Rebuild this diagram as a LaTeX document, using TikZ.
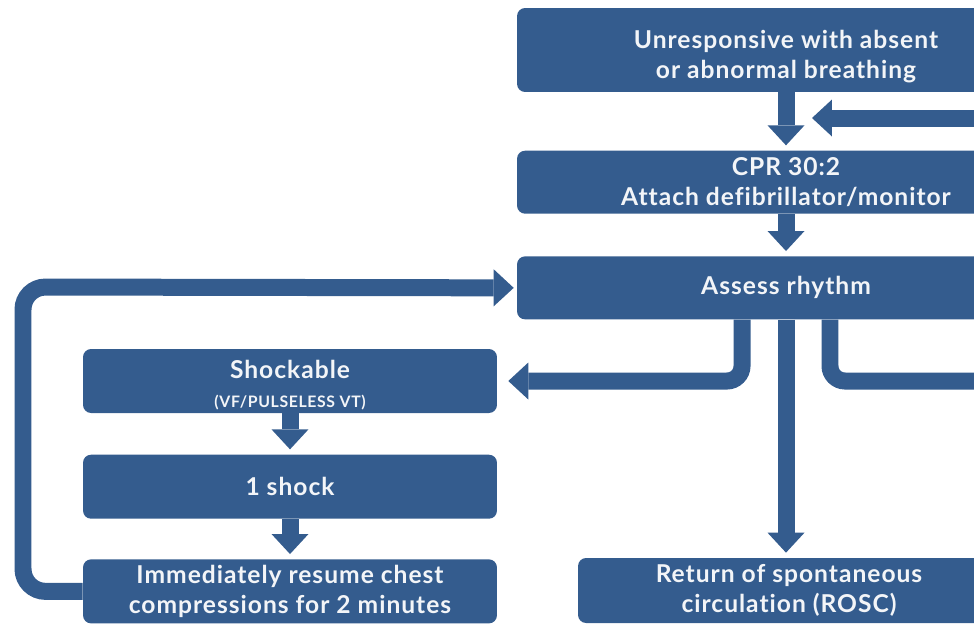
\documentclass[tikz,border=0pt]{standalone}
\usepackage{fontspec}
\setmainfont{Lato}[LetterSpace=4, Ligatures=NoCommon]
\usetikzlibrary{arrows.meta, positioning, calc}
\definecolor{alsblue}{HTML}{345C8E}
% move the lines of a box down without changing its size
\newcommand{\sinktext}[2]{\raisebox{-#1}[\height][\depth]{\begin{tabular}{@{}c@{}}#2\end{tabular}}}

\begin{document}
\begin{tikzpicture}[x=0.02cm, y=-0.02cm,
    stepbox/.style={fill=alsblue, rounded corners=0.16cm, text=white!94!alsblue, align=center, inner sep=0pt,
        font=\bfseries\fontsize{14}{17}\selectfont},
    wide/.style={stepbox, minimum width=10.76cm},
    narrow/.style={stepbox, minimum width=8.28cm, minimum height=1.28cm},
    flow/.style={draw=alsblue, line width=0.34cm, shorten >=0.1cm,
        -{Triangle[width=0.74cm, length=0.4cm, line width=0pt]}},
    branch/.style={draw=alsblue, line width=0.34cm}
]
\useasboundingbox (0,0) rectangle (974,623);
\clip (0,0) rectangle (974,623);

% Main column on the right
\node[wide, minimum height=1.68cm] (resp) at (786,50) {\sinktext{0.15cm}{Unresponsive with absent\\or abnormal breathing}};
\node[wide, minimum height=1.26cm, below=1.16cm of resp] (cpr) {CPR 30:2\\Attach defibrillator/monitor};
\node[wide, minimum height=1.26cm, below=0.84cm of cpr] (rhythm) {Assess rhythm};
\node[stepbox, minimum width=8.44cm, minimum height=1.3cm] (rosc) at (789,590.5) {Return of spontaneous\\circulation (ROSC)};

% Shockable column on the left
\node[narrow] (shockable) at (290,381) {\sinktext{0.12cm}{Shockable\\[-1pt]{\fontsize{9}{10}\selectfont (VF/PULSELESS VT)}}};
\node[narrow, below=0.82cm of shockable] (shock) {1 shock};
\node[narrow, below=0.8cm of shock] (resume) {Immediately resume chest\\compressions for 2 minutes};

% Free ends leaving the page
\coordinate (inright) at (990,118);
\coordinate (outright) at (990,381);
\coordinate (loop) at (23,287);

% Arrows
\draw[flow] (resp) -- (cpr);
\draw[flow] (inright) -- ([xshift=0.42cm]resp.south |- inright);
\draw[flow] (cpr) -- (rhythm);
\draw[flow, shorten >=0.22cm, rounded corners=0.3cm] ([xshift=-0.88cm]rhythm.south) |- (shockable.east);
\draw[branch, rounded corners=0.3cm] ([xshift=0.88cm]rhythm.south) |- (outright);
\draw[flow] (rhythm.south) -- (rhythm.south |- rosc.north);
\draw[flow] (shockable) -- (shock);
\draw[flow] (shock) -- (resume);
\draw[flow, shorten >=0.06cm, rounded corners=0.45cm] (resume.west) -| (loop) -- (rhythm.west);
\end{tikzpicture}
\end{document}
